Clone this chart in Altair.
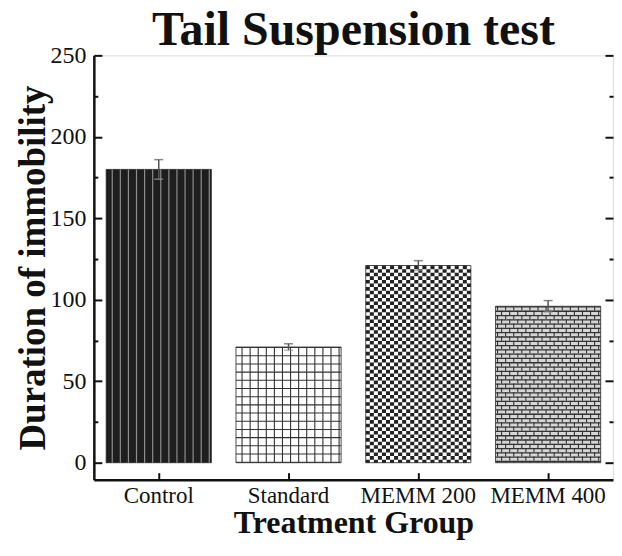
import altair as alt
import pandas as pd

# ---- data ----
groups = ["Control", "Standard", "MEMM 200", "MEMM 400"]
values = [180, 71, 121, 96]
errors = [6, 2, 3, 3.5]
y_major = [0, 50, 100, 150, 200, 250]
y_all = [0, 25, 50, 75, 100, 125, 150, 175, 200, 225, 250]
fills = ["#1e1e1e", "#ffffff", "#ffffff", "#d6d6d6"]

W, H = 520, 425
N_SUB = 26
BAND = W / 4 * (1 - 0.19)
SUB = BAND / N_SUB
FONT = "Liberation Serif"

df = pd.DataFrame({"group": groups, "value": values, "err": errors})
df["lo"] = df["value"] - df["err"]
df["hi"] = df["value"] + df["err"]

pat = pd.DataFrame(
    [{"group": g, "value": v, "col": c} for g, v in zip(groups, values) for c in range(N_SUB)]
)

xs = alt.Scale(domain=groups, paddingInner=0.19, paddingOuter=0.095)
ys = alt.Scale(domain=[-10.4, 250], nice=False, zero=False)
xo = alt.Scale(domain=list(range(N_SUB)), paddingInner=0, paddingOuter=0)

X_NONE = alt.X("group:N", scale=xs, axis=None)

bars = alt.Chart(df).mark_bar(stroke="#222", strokeWidth=0.8).encode(
    x=alt.X(
        "group:N", scale=xs,
        axis=alt.Axis(orient="bottom", title="Treatment Group", ticks=False, domain=False,
                      labelAngle=0, labelFont=FONT, labelFontSize=23, labelColor="#111",
                      labelPadding=5, titleFont=FONT, titleFontSize=32, titleFontWeight="bold",
                      titleColor="#111", titlePadding=0, grid=False),
    ),
    y=alt.Y(
        "value:Q", scale=ys,
        axis=alt.Axis(orient="left", values=y_major, ticks=False, domain=False,
                      labelFont=FONT, labelFontSize=24, labelColor="#111", labelPadding=8,
                      title="Duration of immobility", titleFont=FONT, titleFontSize=37,
                      titleFontWeight="bold", titleColor="#111", titlePadding=-3, grid=False),
    ),
    y2=alt.datum(0),
    fill=alt.Fill("group:N", scale=alt.Scale(domain=groups, range=fills), legend=None),
)


def sub_rules(group, cond, **mark):
    return alt.Chart(pat).transform_filter(
        f"datum.group == '{group}' && ({cond})"
    ).mark_rule(**mark).encode(
        x=X_NONE,
        xOffset=alt.XOffset("col:O", scale=xo),
        y=alt.Y("value:Q", scale=ys, axis=None),
        y2=alt.datum(0),
    )


def wide_rule(group, **mark):
    return alt.Chart(df).transform_filter(f"datum.group == '{group}'").mark_rule(**mark).encode(
        x=X_NONE,
        y=alt.Y("value:Q", scale=ys, axis=None),
        y2=alt.datum(0),
    )


# Control: vertical light stripes
ctrl = sub_rules("Control", "datum.col % 2 == 1", color="#8e8e8e", strokeWidth=1.2)
# Standard: grid
std_v = sub_rules("Standard", "datum.col % 2 == 1", color="#333", strokeWidth=1.1)
std_h = wide_rule("Standard", color="#333", strokeWidth=BAND, strokeDash=[1.1, 7.1])
# MEMM 200: checkerboard
chk_a = sub_rules("MEMM 200", "datum.col % 2 == 0", color="#222", strokeWidth=SUB,
                  strokeDash=[3.6, 3.6])
chk_b = sub_rules("MEMM 200", "datum.col % 2 == 1", color="#222", strokeWidth=SUB,
                  strokeDash=[3.6, 3.6], strokeDashOffset=3.6)
# MEMM 400: bricks
brk_h = wide_rule("MEMM 400", color="#333", strokeWidth=BAND, strokeDash=[1.3, 3.0])
brk_a = sub_rules("MEMM 400", "datum.col % 2 == 0", color="#333", strokeWidth=1.1,
                  strokeDash=[4.3, 4.3])
brk_b = sub_rules("MEMM 400", "datum.col % 2 == 1", color="#333", strokeWidth=1.1,
                  strokeDash=[4.3, 4.3], strokeDashOffset=4.3)

tick_size = {"condition": {"test": "datum.value % 50 === 0", "value": 8}, "value": 4}

err = alt.Chart(df).mark_rule(color="#555", strokeWidth=1.5).encode(
    x=alt.X("group:N", scale=xs,
            axis=alt.Axis(orient="top", offset=-H, labels=False, domain=False, ticks=True,
                          tickSize=7, tickWidth=2, tickColor="#111", title=None, grid=False)),
    y=alt.Y("lo:Q", scale=ys,
            axis=alt.Axis(orient="right", offset=-W, values=y_all, labels=False, domain=True,
                          domainColor="#111", domainWidth=2.5, ticks=True, tickSize=tick_size,
                          tickWidth=2, tickColor="#111", title=None, grid=False)),
    y2="hi:Q",
)
cap_hi = alt.Chart(df).mark_tick(color="#555", size=9, thickness=1.5).encode(
    x=alt.X("group:N", scale=xs,
            axis=alt.Axis(orient="bottom", labels=False, domain=True, domainColor="#111",
                          domainWidth=2.5, ticks=False, title=None, grid=False)),
    y=alt.Y("hi:Q", scale=ys,
            axis=alt.Axis(orient="left", offset=-W, values=y_all, labels=False, domain=False,
                          ticks=True, tickSize=tick_size, tickWidth=2, tickColor="#111",
                          title=None, grid=False)),
)
cap_lo = alt.Chart(df).mark_tick(color="#999", size=9, thickness=1.5).encode(
    x=X_NONE,
    y=alt.Y("lo:Q", scale=ys, axis=None),
)

chart = alt.layer(
    bars, ctrl, std_v, std_h, chk_a, chk_b, brk_h, brk_a, brk_b, err, cap_hi, cap_lo
).resolve_axis(x="independent", y="independent").properties(
    width=W,
    height=H,
    title=alt.TitleParams("Tail Suspension test", font=FONT, fontSize=48, fontWeight="bold",
                          color="#111", anchor="middle", frame="group", offset=-12),
    autosize=alt.AutoSizeParams(type="none"),
    padding={"left": 86, "top": 47, "right": 1, "bottom": 60},
).configure_view(stroke="#111", strokeWidth=2).configure(background="white")

chart.save("out.html", embed_options={"renderer": "svg", "actions": False})
